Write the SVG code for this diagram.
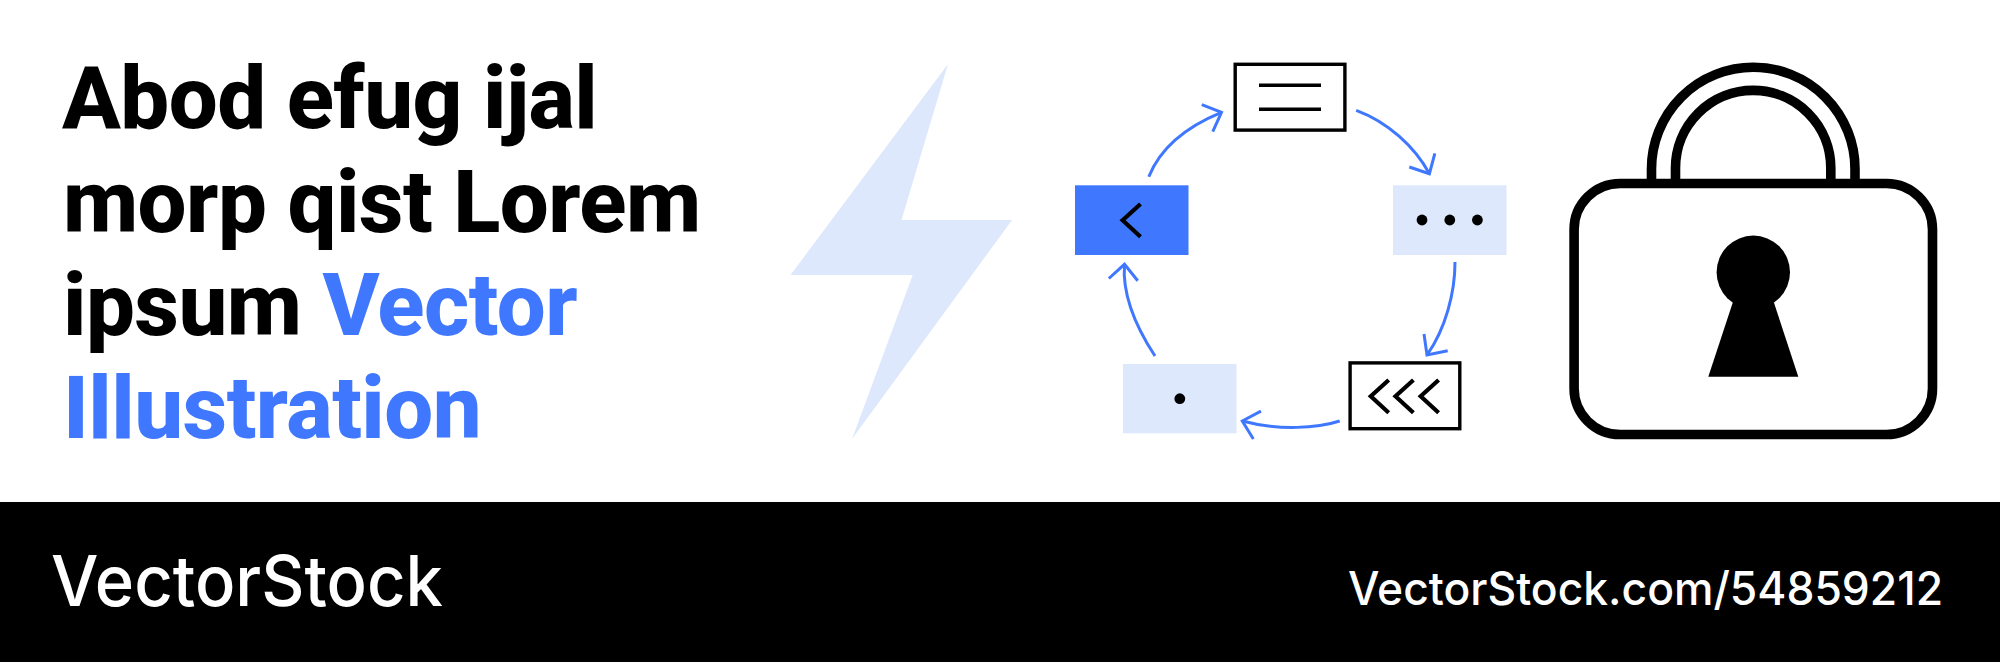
<svg xmlns="http://www.w3.org/2000/svg" width="2000" height="662" viewBox="0 0 2000 662">
<defs>
<style>
.title{font-family:Roboto,"Liberation Sans",sans-serif;font-weight:800;font-size:87px;letter-spacing:-0.55px;fill:#000}
.blue{fill:#3f78ff}
.foot{font-family:Inter,"Liberation Sans",sans-serif;font-weight:450;fill:#fff}
.lt{fill:#dee8fc}
.bx{fill:#fff;stroke:#000;stroke-width:3.4}
.ink{fill:none;stroke:#000;stroke-width:3.4}
.chev{fill:none;stroke:#000;stroke-width:4.2}
.conn{fill:none;stroke:#3f78ff;stroke-width:3;marker-end:url(#head)}
.lock{fill:none;stroke:#000;stroke-width:9.6}
</style>
<marker id="head" markerUnits="userSpaceOnUse" markerWidth="40" markerHeight="40" refX="0" refY="0" orient="auto" viewBox="-20 -20 40 40">
<path d="M-15.4-14.5L0 0L-15.4 14.5" fill="none" stroke="#3f78ff" stroke-width="3"/>
</marker>
</defs>
<rect width="2000" height="662" fill="#fff"/>
<g id="title">
<text class="title" x="62" y="128.3">Abod efug ijal</text>
<text class="title" x="63" y="231.7">morp qist Lorem</text>
<text class="title" x="63" y="335">ipsum <tspan class="blue">Vector</tspan></text>
<text class="title blue" x="63" y="438.3">Illustration</text>
</g>
<path id="bolt" class="lt" d="M948 64L901.5 220H1012L852 439L912.7 275H790.5Z"/>
<g id="connectors">
<path class="conn" d="M1148.8 176.7C1161 146 1188 126 1221.5 112.3"/>
<path class="conn" d="M1356.2 110.3C1388 122 1415 147 1429.4 173.7"/>
<path class="conn" d="M1455 262C1455 292 1446 328 1427 355"/>
<path class="conn" d="M1339.7 421C1318 428 1279 431 1242.3 421"/>
<path class="conn" d="M1155 356C1138 330 1122 296 1124.5 264.3"/>
</g>
<g id="node-lines">
<rect class="bx" x="1235.2" y="64.3" width="109.7" height="65.8"/>
<path class="ink" d="M1259 85.3H1321M1259 109.3H1321"/>
</g>
<g id="node-dots">
<rect class="lt" x="1393" y="185.3" width="113.5" height="69.7"/>
<circle cx="1422" cy="220" r="5.4"/><circle cx="1449.8" cy="220" r="5.4"/><circle cx="1477.4" cy="220" r="5.4"/>
</g>
<g id="node-chevrons">
<rect class="bx" x="1350.1" y="362.9" width="109.7" height="65.8"/>
<path class="chev" d="M1388.7 380L1370.8 396.3L1388.7 412.7M1413.4 380L1395.5 396.3L1413.4 412.7M1438.6 380L1420.7 396.3L1438.6 412.7"/>
</g>
<g id="node-dot">
<rect class="lt" x="1123" y="364" width="113.5" height="69.3"/>
<circle cx="1179.8" cy="398.7" r="5.4"/>
</g>
<g id="node-chevron">
<rect class="blue" x="1075" y="185.3" width="113.5" height="69.7"/>
<path class="chev" d="M1140.5 204L1122.6 220.3L1140.5 236.7"/>
</g>
<g id="lock">
<path class="lock" d="M1651.5 183V169A101.75 101.75 0 0 1 1855 169V183"/>
<path class="lock" d="M1675.5 183V168A77.65 77.65 0 0 1 1830.8 168V183"/>
<rect class="lock" x="1574.1" y="183.5" width="358.4" height="251" rx="46" ry="46"/>
<circle cx="1753.3" cy="272.3" r="36.7"/>
<path d="M1732.7 302.7H1774L1798.3 376.7H1708.3Z"/>
</g>
<rect id="footer" y="502" width="2000" height="160" fill="#000"/>
<g id="footer-text">
<text class="foot" x="51" y="606" font-size="70" textLength="392" lengthAdjust="spacingAndGlyphs">VectorStock</text>
<text class="foot" x="1348" y="605" font-size="46" textLength="595" lengthAdjust="spacingAndGlyphs">VectorStock.com/54859212</text>
</g>
</svg>
